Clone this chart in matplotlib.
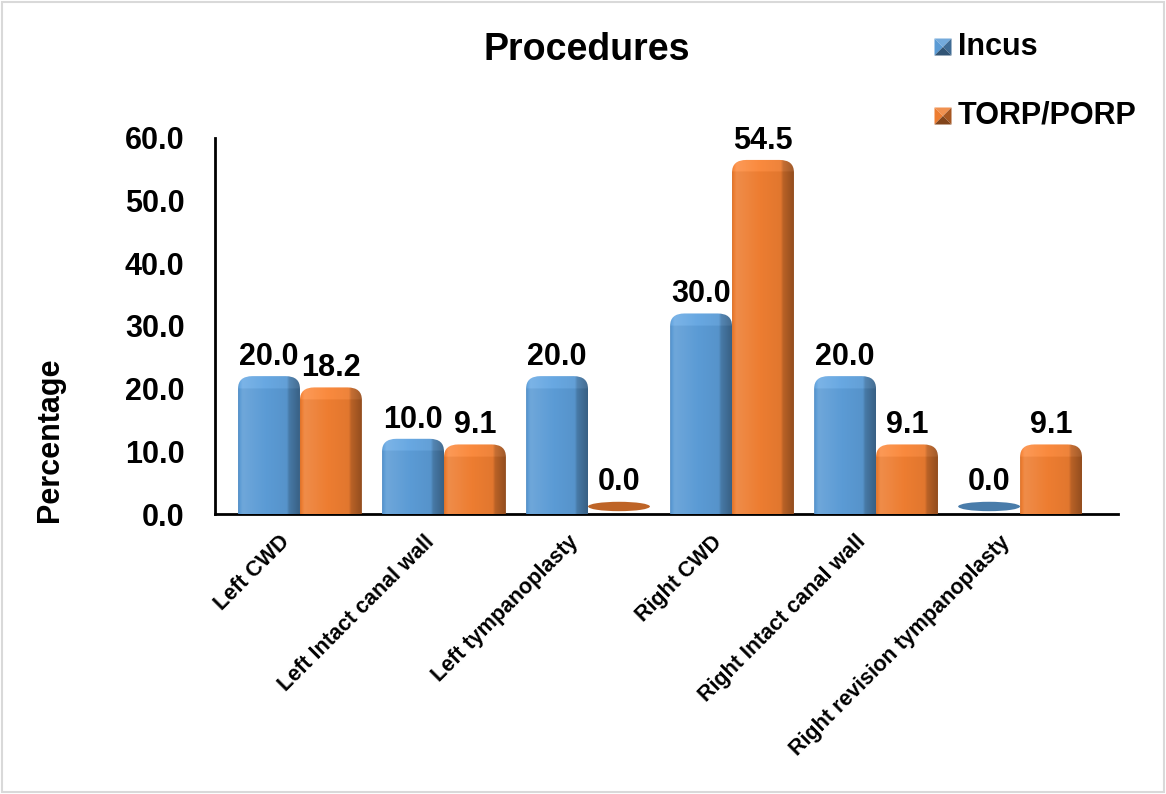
import numpy as np
import matplotlib
matplotlib.use("Agg")
import matplotlib.pyplot as plt
from matplotlib.path import Path
from matplotlib.patches import PathPatch, Polygon, Rectangle, Ellipse
from matplotlib.colors import to_rgb
from matplotlib.transforms import ScaledTranslation

plt.rcParams['font.family'] = ['Liberation Sans', 'DejaVu Sans']
plt.rcParams['font.weight'] = 'bold'

procedures = ['Left CWD', 'Left Intact canal wall', 'Left tympanoplasty',
              'Right CWD', 'Right Intact canal wall', 'Right revision tympanoplasty']
incus = [20.0, 10.0, 20.0, 30.0, 20.0, 0.0]
torp_porp = [18.2, 9.1, 0.0, 54.5, 9.1, 9.1]
series_names = ['Incus', 'TORP/PORP']
y_ticks = [0, 10, 20, 30, 40, 50, 60]

BLUE = '#5B9BD5'
ORANGE = '#ED7D31'

W, H = 1166, 794
fig = plt.figure(figsize=(W / 100, H / 100), dpi=100)
ax = fig.add_axes([215 / W, 1 - 514 / H, (1118 - 215) / W, (514 - 138) / H])

x = np.arange(len(procedures))
bw = 0.43
CAP = 2.0   # height of the rounded top face, in data units
RX = 0.10   # corner rounding, in data units


def shade(color, f):
    c = np.array(to_rgb(color))
    if f >= 1:
        return c + (1 - c) * (f - 1)
    return c * f


def bar_gradient(color, ny, ncap):
    # horizontal shading: front face with a light edge, dark side face on the right
    stops = [(0.0, 0.92), (0.07, 1.12), (0.45, 1.0), (0.79, 0.95), (0.83, 0.78), (1.0, 0.62)]
    t = np.linspace(0, 1, 120)
    fs = np.interp(t, [s[0] for s in stops], [s[1] for s in stops])
    row = np.array([shade(color, f) for f in fs])
    img = np.repeat(row[None, :, :], ny, axis=0)
    # top face slightly lighter
    img[:ncap] = np.clip(img[:ncap] + 0.05, 0, 1)
    return img


def rounded_bar_path(x0, x1, h):
    top = h + CAP
    verts = [(x0, 0), (x0, h),
             (x0, top), (x0 + RX, top),
             (x1 - RX, top),
             (x1, top), (x1, h),
             (x1, 0), (x0, 0)]
    codes = [Path.MOVETO, Path.LINETO,
             Path.CURVE3, Path.CURVE3,
             Path.LINETO,
             Path.CURVE3, Path.CURVE3,
             Path.LINETO, Path.CLOSEPOLY]
    return Path(verts, codes)


for values, color, off in [(incus, BLUE, -bw / 2), (torp_porp, ORANGE, bw / 2)]:
    bars = ax.bar(x + off, values, bw, color='none', edgecolor='none')
    for rect, v in zip(bars, values):
        x0 = rect.get_x()
        x1 = x0 + rect.get_width()
        h = rect.get_height()
        if h <= 0:
            ax.add_patch(Ellipse(((x0 + x1) / 2, 1.2), x1 - x0, 1.5,
                                 facecolor=shade(color, 0.8), edgecolor='none', zorder=3))
            label_y = 2.0
        else:
            patch = PathPatch(rounded_bar_path(x0, x1, h), facecolor='none',
                              edgecolor='none', zorder=3)
            ax.add_patch(patch)
            ny = 400
            ncap = max(1, int(ny * CAP / (h + CAP)))
            im = ax.imshow(bar_gradient(color, ny, ncap), extent=[x0, x1, 0, h + CAP],
                           aspect='auto', origin='upper', zorder=3, interpolation='bilinear')
            im.set_clip_path(patch)
            label_y = h + CAP
        ax.annotate(f'{v:.1f}', ((x0 + x1) / 2, label_y), xytext=(0, 3),
                    textcoords='offset points', ha='center', va='bottom',
                    fontsize=22, fontweight='bold', zorder=5)

ax.set_xlim(-0.59, 5.68)
ax.set_ylim(0, 60)
ax.set_yticks(y_ticks)
ax.set_yticklabels([f'{t:.1f}' for t in y_ticks], fontsize=22, fontweight='bold')
ax.set_xticks(x)
ax.set_xticklabels([])
ax.tick_params(axis='both', length=0)
ax.tick_params(axis='y', pad=22)

# category labels, slanted and hung just under the axis line
lbl_offset = ScaledTranslation(-13 / 100, -25 / 100, fig.dpi_scale_trans)
for xi, name in zip(x, procedures):
    ax.text(xi, 0, name, transform=ax.get_xaxis_transform() + lbl_offset,
            rotation=45, ha='right', va='center', rotation_mode='anchor',
            fontsize=15.5, fontweight='bold', clip_on=False)

for side in ['top', 'right']:
    ax.spines[side].set_visible(False)
for side in ['left', 'bottom']:
    ax.spines[side].set_linewidth(2)
    ax.spines[side].set_color('black')

fig.text(587 / W, 1 - 50 / H, 'Procedures', ha='center', va='center',
         fontsize=27, fontweight='bold')
fig.text(50 / W, 1 - 440 / H, 'Percentage', ha='center', va='center',
         rotation=90, fontsize=22, fontweight='bold')


# legend with bevelled square markers
def bevel_marker(cx, cy, size, color):
    hs = size / 2
    pts = {
        'tl': (cx - hs, cy - hs), 'tr': (cx + hs, cy - hs),
        'br': (cx + hs, cy + hs), 'bl': (cx - hs, cy + hs), 'c': (cx, cy),
    }
    faces = [(('tl', 'tr', 'c'), 1.15), (('tl', 'bl', 'c'), 1.0),
             (('tr', 'br', 'c'), 0.7), (('bl', 'br', 'c'), 0.55)]
    for keys, f in faces:
        xy = [(pts[k][0] / W, 1 - pts[k][1] / H) for k in keys]
        fig.add_artist(Polygon(xy, closed=True, facecolor=shade(color, f),
                               edgecolor='none', transform=fig.transFigure))


for name, color, cy in zip(series_names, [BLUE, ORANGE], [47, 116]):
    bevel_marker(943, cy, 17, color)
    fig.text(958 / W, 1 - cy / H, name, ha='left', va='center',
             fontsize=22, fontweight='bold')

fig.add_artist(Rectangle((0.002, 0.002), 0.996, 0.996, transform=fig.transFigure,
                         facecolor='none', edgecolor='#d9d9d9', linewidth=1.5))

fig.savefig('out.png', dpi=100)
